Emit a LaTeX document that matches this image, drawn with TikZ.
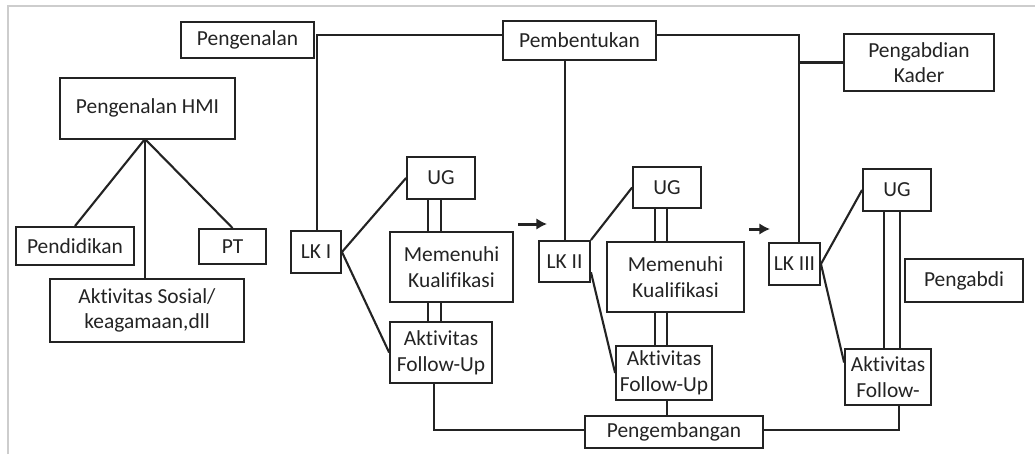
\documentclass[tikz,border=0pt]{standalone}
\usepackage{fontspec}
\setmainfont{Carlito}[Ligatures=NoCommon]
\usetikzlibrary{calc,arrows.meta}
\definecolor{ink}{RGB}{35,35,35}
\definecolor{framegray}{RGB}{205,205,205}
\tikzset{
  box/.style={draw=ink, line width=1.2pt, inner sep=0pt, align=center, text=ink,
              font=\fontsize{12.2}{14.6}\selectfont},
  rect/.style n args={4}{minimum width={(#3-#1)*0.5669pt}, minimum height={(#4-#2)*0.5669pt},
              at={({(#1+#3)/2},{(#2+#4)/2})}},
  link/.style={draw=ink, line width=1.2pt},
  flowarrow/.style={draw=ink, line width=1.7pt, -{Latex[length=6pt,width=6.5pt]}},
  frameline/.style={draw=framegray, line width=0.6pt}
}
\begin{document}
\begin{tikzpicture}[x=0.02cm, y=-0.02cm]
\useasboundingbox (0,0) rectangle (1035,454);
% frame
\coordinate (fa) at (8,454);
\coordinate (fb) at (8,6);
\coordinate (fc) at (1035,6);
\draw[frameline] (fa) -- (fb) -- (fc);

% boxes
\node[box, rect={181}{22}{314}{58}] (Pengenalan) {Pengenalan};
\node[box, rect={503}{21}{656}{60}] (Pembentukan) {Pembentukan};
\node[box, rect={844}{34}{994}{91}] (PK) {Pengabdian\\Kader};
\node[box, rect={60}{78}{235}{139}] (HMI) {\raisebox{3.1pt}{Pengenalan HMI}};
\node[box, rect={16}{227}{134}{265}] (Pendidikan) {Pendidikan};
\node[box, rect={199}{229}{266}{264}] (PT) {PT};
\node[box, rect={50}{279}{244}{342}] (Sosial) {Aktivitas Sosial/\\keagamaan,dll};
\node[box, rect={291}{231}{341}{273}] (LK1) {LK I};
\node[box, rect={407}{157}{475}{199}] (UG1) {UG};
\node[box, rect={390}{232}{513}{302}] (Mem1) {Memenuhi\\Kualifikasi};
\node[box, rect={390}{322}{492}{383}] (AFU1) {Aktivitas\\Follow-Up};
\node[box, rect={539}{241}{590}{282}] (LK2) {LK II};
\node[box, rect={633}{167}{701}{208}] (UG2) {UG};
\node[box, rect={607}{242}{744}{312}] (Mem2) {Memenuhi\\Kualifikasi};
\node[box, rect={616}{346}{712}{400}] (AFU2) {Aktivitas\\Follow-Up};
\node[box, rect={585}{416}{763}{448}] (Peng) {Pengembangan};
\node[box, rect={769}{243}{820}{285}] (LK3) {LK III};
\node[box, rect={863}{169}{931}{211}] (UG3) {UG};
\node[box, rect={845}{349}{931}{405}] (AFU3) {Aktivitas\\Follow-};
\node[box, rect={905}{259}{1023}{302}] (Pengabdi) {Pengabdi};

% helper coordinates
\coordinate (apex) at (145,139);
\coordinate (t1) at (317,35);
\coordinate (v2) at (565,35);
\coordinate (v3) at (799,35);
\coordinate (d1a) at (428,0);
\coordinate (d1b) at (441,0);
\coordinate (d2a) at (655,0);
\coordinate (d2b) at (667,0);
\coordinate (d3a) at (884,0);
\coordinate (d3b) at (900,0);
\coordinate (p1) at (434,430);
\coordinate (p3) at (899,430);
\coordinate (a1s) at (518,224);
\coordinate (a1e) at (547,224);
\coordinate (a2s) at (749,229);
\coordinate (a2e) at (770,229);

% HMI tree
\draw[link] (apex) -- (Pendidikan.north);
\draw[link] (apex) -- (PT.north);
\draw[link] (apex) -- (apex |- Sosial.north);

% top connections
\draw[link] (LK1.north -| t1) -- (t1) -- (Pembentukan.west |- t1);
\draw[link] (LK2.north -| v2) -- (Pembentukan.south -| v2);
\draw[link] (Pembentukan.east |- v3) -- (v3) -- (LK3.north -| v3);
\draw[link] (v3 |- PK.west) -- (PK.west);

% LK I group
\draw[link] (LK1.east) -- (UG1.west);
\draw[link] (LK1.east) -- (AFU1.west);
\draw[link] (UG1.south -| d1a) -- (Mem1.north -| d1a);
\draw[link] (UG1.south -| d1b) -- (Mem1.north -| d1b);
\draw[link] (Mem1.south -| d1a) -- (AFU1.north -| d1a);
\draw[link] (Mem1.south -| d1b) -- (AFU1.north -| d1b);
\draw[link] (AFU1.south -| p1) -- (p1) -- (Peng.west |- p1);

% LK II group
\draw[link] (LK2.north east) -- (UG2.west);
\draw[link] ($(LK2.east)!0.5!(LK2.south east)$) -- (AFU2.west);
\draw[link] (UG2.south -| d2a) -- (Mem2.north -| d2a);
\draw[link] (UG2.south -| d2b) -- (Mem2.north -| d2b);
\draw[link] (Mem2.south -| d2a) -- (AFU2.north -| d2a);
\draw[link] (Mem2.south -| d2b) -- (AFU2.north -| d2b);
\draw[link] (AFU2.south -| d2b) -- (Peng.north -| d2b);

% LK III group
\draw[link] (LK3.east) -- (UG3.west);
\draw[link] (LK3.east) -- ($(AFU3.west)!0.5!(AFU3.north west)$);
\draw[link] (UG3.south -| d3a) -- (AFU3.north -| d3a);
\draw[link] (UG3.south -| d3b) -- (AFU3.north -| d3b);
\draw[link] (Peng.east |- p3) -- (p3) -- (AFU3.south -| p3);

% arrows
\draw[flowarrow] (a1s) -- (a1e);
\draw[flowarrow] (a2s) -- (a2e);
\end{tikzpicture}
\end{document}
